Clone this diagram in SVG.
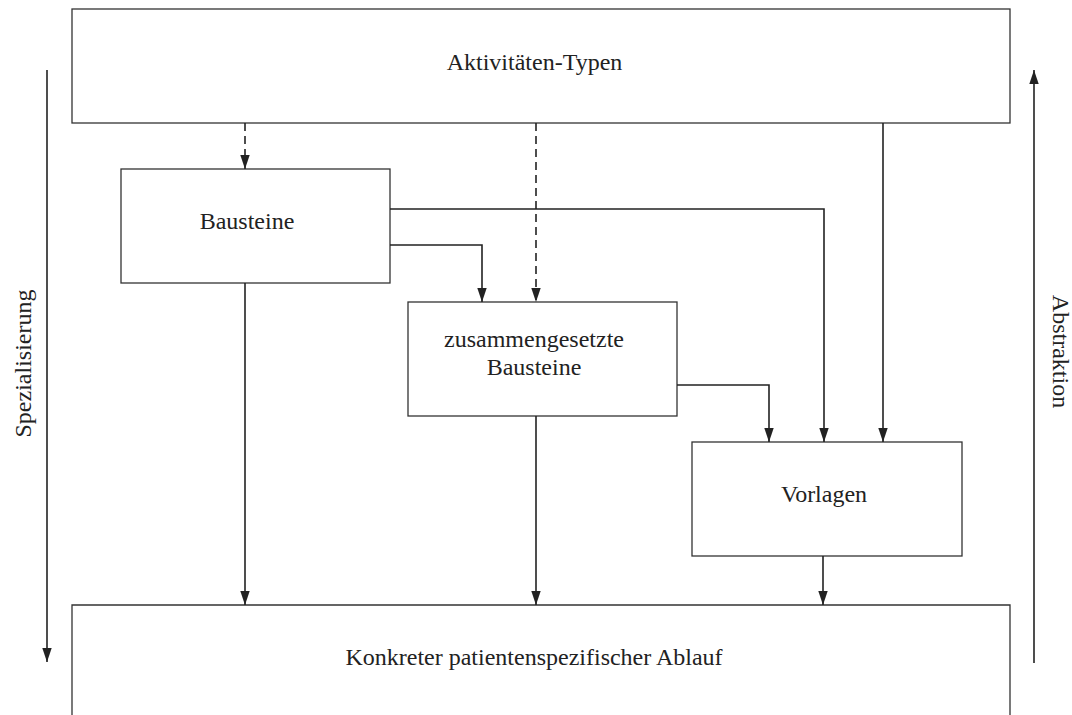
<svg xmlns="http://www.w3.org/2000/svg" width="1072" height="715" viewBox="0 0 1072 715">
<style>
.box{fill:#fff;stroke:#333;stroke-width:1.3}
.lbl{font-family:"Liberation Serif","Times New Roman",serif;font-size:24px;fill:#222;text-anchor:middle}
.c{fill:none;stroke:#222;stroke-width:1.6}
.d{stroke-dasharray:8,5}
</style>
<defs>
<marker id="ah" markerUnits="userSpaceOnUse" markerWidth="14" markerHeight="10" refX="14" refY="5" orient="auto">
<path d="M0,0.3 L14,5 L0,9.7 z" fill="#222"/>
</marker>
</defs>
<rect width="1072" height="715" fill="#fff"/>
<g id="aktivitaeten">
<rect class="box" x="72" y="9" width="938" height="114"/>
<text class="lbl" x="534.5" y="70">Aktivitäten-Typen</text>
</g>
<g id="bausteine">
<rect class="box" x="121" y="169" width="269" height="114"/>
<text class="lbl" x="247" y="229">Bausteine</text>
</g>
<g id="zusammengesetzte">
<rect class="box" x="408" y="302" width="269" height="114"/>
<text class="lbl" x="534" y="347">zusammengesetzte</text>
<text class="lbl" x="534" y="375">Bausteine</text>
</g>
<g id="vorlagen">
<rect class="box" x="692" y="442" width="270" height="114"/>
<text class="lbl" x="824" y="502">Vorlagen</text>
</g>
<g id="ablauf">
<path class="box" d="M72,716 V605 H1010 V716"/>
<text class="lbl" x="534" y="665">Konkreter patientenspezifischer Ablauf</text>
</g>
<g id="connectors">
<path class="c d" d="M245,123 V169" marker-end="url(#ah)"/>
<path class="c d" d="M536,123 V302" marker-end="url(#ah)"/>
<path class="c" d="M883,123 V442" marker-end="url(#ah)"/>
<path class="c" d="M390,209 H824 V442" marker-end="url(#ah)"/>
<path class="c" d="M390,245 H482 V302" marker-end="url(#ah)"/>
<path class="c" d="M677,385 H769 V442" marker-end="url(#ah)"/>
<path class="c" d="M245,283 V605" marker-end="url(#ah)"/>
<path class="c" d="M536,416 V605" marker-end="url(#ah)"/>
<path class="c" d="M823,556 V605" marker-end="url(#ah)"/>
</g>
<g id="spezialisierung">
<path class="c" d="M47,70 V662" marker-end="url(#ah)"/>
<text class="lbl" transform="translate(31,363.5) rotate(-90)">Spezialisierung</text>
</g>
<g id="abstraktion">
<path class="c" d="M1034,663 V70" marker-end="url(#ah)"/>
<text class="lbl" transform="translate(1053,351.5) rotate(90)">Abstraktion</text>
</g>
</svg>
